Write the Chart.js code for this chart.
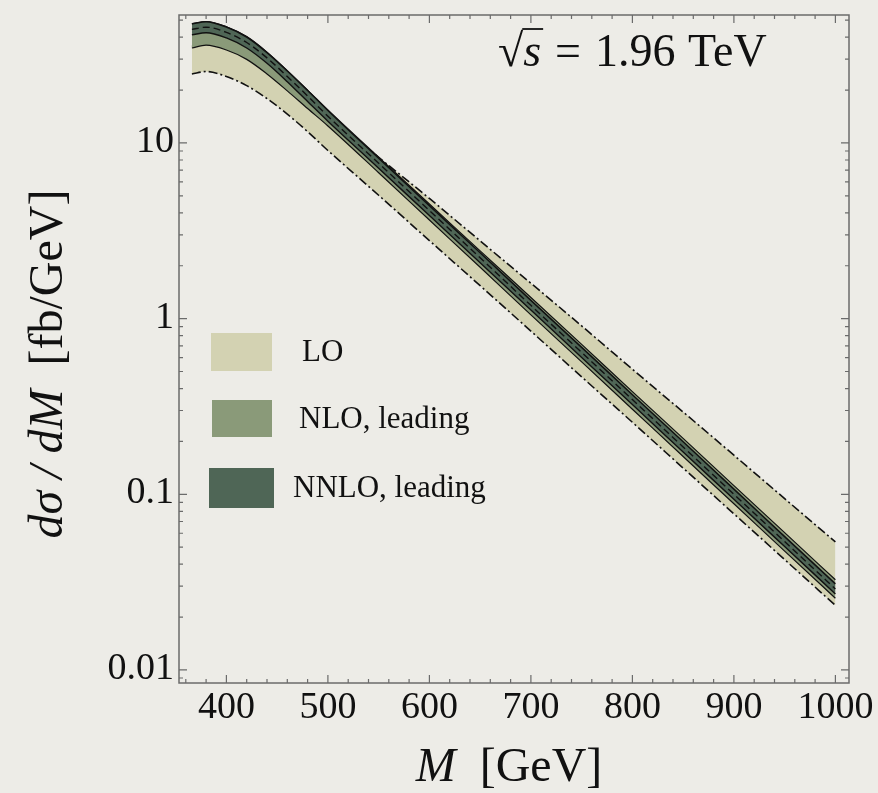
<!DOCTYPE html>
<html>
<head>
<meta charset="utf-8">
<script src="https://cdn.jsdelivr.net/npm/chart.js@4.4.1/dist/chart.umd.min.js"></script>
<style>
  html, body { margin: 0; padding: 0; background: #edece7; }
  #wrap { width: 878px; height: 793px; position: relative; }
</style>
</head>
<body>
<div id="wrap"><canvas id="myChart"></canvas></div>
<script>
// invariant mass points (GeV) and band edges (fb/GeV)
var massGeV = [366, 380, 400, 420, 440, 460, 480, 500, 550, 600, 650, 700, 750, 800, 850, 900, 950, 1000];
var loLow = [24.7, 25.5, 23.9, 21.2, 17.9, 14.6, 11.6, 9.06, 5.04, 2.78, 1.54, 0.849, 0.466, 0.257, 0.141, 0.0774, 0.0425, 0.0233];
var loHigh = [35.4, 36.9, 35.4, 32.3, 27.4, 22.4, 18.0, 14.4, 8.29, 4.83, 2.77, 1.59, 0.909, 0.515, 0.294, 0.167, 0.0945, 0.0536];
var nloLow = [34.7, 36.0, 33.8, 29.9, 24.7, 19.8, 15.7, 12.5, 6.77, 3.64, 1.96, 1.05, 0.567, 0.305, 0.164, 0.0883, 0.0475, 0.0256];
var nloHigh = [47.8, 49.1, 45.9, 40.3, 32.9, 25.8, 20.0, 15.4, 8.29, 4.49, 2.43, 1.32, 0.713, 0.384, 0.208, 0.112, 0.0605, 0.0326];
var nnloLow = [41.2, 42.4, 39.6, 34.7, 28.4, 22.3, 17.2, 13.3, 7.18, 3.86, 2.08, 1.12, 0.601, 0.324, 0.174, 0.0937, 0.0504, 0.0271];
var nnloHigh = [47.6, 49.0, 45.7, 40.1, 32.7, 25.7, 19.9, 15.3, 8.18, 4.40, 2.37, 1.27, 0.686, 0.369, 0.199, 0.107, 0.0574, 0.0309];
var nnloCentral = [44.3, 45.6, 42.6, 37.3, 30.5, 23.9, 18.5, 14.2, 7.66, 4.12, 2.22, 1.19, 0.642, 0.346, 0.186, 0.100, 0.0538, 0.0289];

var xTickLabels = [400, 500, 600, 700, 800, 900, 1000];
var yTickLabels = [0.01, 0.1, 1, 10];
var legendLabels = ["LO", "NLO, leading", "NNLO, leading"];
var bandColors = ["#d3d2b2", "#8a9a79", "#4f6656"];

var SERIF = "'Liberation Serif', 'DejaVu Serif', serif";

function pts(arr) {
    return massGeV.map(function (m, i) { return { x: m, y: arr[i] }; });
}

function edge(arr, order, color, width, dash) {
    return { data: pts(arr), order: order, borderColor: color, borderWidth: width,
             borderDash: dash || [], fill: false, pointRadius: 0 };
}
function bandLow(arr, order) {
    return { data: pts(arr), order: order, borderWidth: 0, borderColor: 'rgba(0,0,0,0)', fill: false, pointRadius: 0 };
}
function bandHigh(arr, order, color) {
    return { data: pts(arr), order: order, borderWidth: 0, borderColor: 'rgba(0,0,0,0)',
             backgroundColor: color, fill: '-1', pointRadius: 0 };
}

// bands drawn bottom-up: LO, NLO, NNLO, each followed by its edge lines
var datasets = [
    bandLow(loLow, 60), bandHigh(loHigh, 59, bandColors[0]),
    edge(loLow, 58, '#111', 1.6, [9, 3, 2, 3]), edge(loHigh, 57, '#111', 1.6, [9, 3, 2, 3]),
    bandLow(nloLow, 56), bandHigh(nloHigh, 55, bandColors[1]),
    edge(nloLow, 54, '#111', 1.2), edge(nloHigh, 53, '#111', 1.2),
    bandLow(nnloLow, 52), bandHigh(nnloHigh, 51, bandColors[2]),
    edge(nnloLow, 50, '#111', 1.4), edge(nnloHigh, 49, '#111', 1.5),
    edge(nnloCentral, 48, '#111', 1.4, [7, 4])
];

var decor = {
    id: 'decor',
    afterDraw: function (chart) {
        var ctx = chart.ctx, a = chart.chartArea;
        var xs = chart.scales.x, ys = chart.scales.y;
        ctx.save();
        ctx.strokeStyle = '#6b6b6b';
        ctx.lineWidth = 1.5;
        ctx.strokeRect(a.left, a.top, a.right - a.left, a.bottom - a.top);
        ctx.lineWidth = 1.2;
        // x ticks, inward, top and bottom
        for (var v = 360; v <= 1000; v += 20) {
            var px = xs.getPixelForValue(v);
            var len = (v % 100 === 0) ? 8 : 4;
            ctx.beginPath();
            ctx.moveTo(px, a.bottom); ctx.lineTo(px, a.bottom - len);
            ctx.moveTo(px, a.top); ctx.lineTo(px, a.top + len);
            ctx.stroke();
        }
        // y ticks, log decades + minors
        for (var d = -3; d <= 1; d++) {
            for (var k = 1; k <= 9; k++) {
                var val = k * Math.pow(10, d);
                if (val < ys.min || val > ys.max) continue;
                var py = ys.getPixelForValue(val);
                var l2 = (k === 1) ? 8 : 4;
                ctx.beginPath();
                ctx.moveTo(a.left, py); ctx.lineTo(a.left + l2, py);
                ctx.moveTo(a.right, py); ctx.lineTo(a.right - l2, py);
                ctx.stroke();
            }
        }
        ctx.fillStyle = '#111';
        ctx.font = '38px ' + SERIF;
        ctx.textAlign = 'center';
        ctx.textBaseline = 'alphabetic';
        xTickLabels.forEach(function (t) {
            ctx.fillText(String(t), xs.getPixelForValue(t), a.bottom + 35);
        });
        ctx.textAlign = 'right';
        ctx.textBaseline = 'middle';
        yTickLabels.forEach(function (t) {
            ctx.fillText(String(t), a.left - 5, ys.getPixelForValue(t) - 1);
        });

        // axis titles
        var it = 'italic 48px ' + SERIF, up = '48px ' + SERIF;
        ctx.textAlign = 'left';
        ctx.textBaseline = 'alphabetic';
        ctx.font = it; var w1 = ctx.measureText('M').width;
        ctx.font = up; var w2 = ctx.measureText('  [GeV]').width;
        var x0 = 509 - (w1 + w2) / 2;
        ctx.font = it; ctx.fillText('M', x0, 781);
        ctx.font = up; ctx.fillText('  [GeV]', x0 + w1, 781);

        ctx.save();
        ctx.translate(62, 364);
        ctx.rotate(-Math.PI / 2);
        ctx.font = it; var w3 = ctx.measureText('d\u03c3 / dM').width;
        ctx.font = up; var w4 = ctx.measureText('  [fb/GeV]').width;
        var y0 = -(w3 + w4) / 2;
        ctx.font = it; ctx.fillText('d\u03c3 / dM', y0, 0);
        ctx.font = up; ctx.fillText('  [fb/GeV]', y0 + w3, 0);
        ctx.restore();

        // legend
        var boxes = [[211, 333, 61, 38], [212, 400, 60, 37], [209, 468, 65, 40]];
        var textX = [302, 299, 293];
        ctx.font = '31px ' + SERIF;
        ctx.textBaseline = 'middle';
        for (var i = 0; i < 3; i++) {
            var b = boxes[i];
            ctx.fillStyle = bandColors[i];
            ctx.fillRect(b[0], b[1], b[2], b[3]);
            ctx.fillStyle = '#111';
            ctx.fillText(legendLabels[i], textX[i], b[1] + b[3] / 2 + 1);
        }

        // sqrt(s) annotation, spread like TeX math spacing
        var sx = 498, sy = 66, ex = 768;
        ctx.textBaseline = 'alphabetic';
        ctx.font = '46px ' + SERIF;
        var rw = ctx.measureText('\u221a').width;
        var eqw = ctx.measureText('=').width;
        var nw = ctx.measureText('1.96').width;
        var tw = ctx.measureText('TeV').width;
        ctx.font = 'italic 46px ' + SERIF;
        var sw = ctx.measureText('s').width;
        var gap = (ex - sx - rw - sw - eqw - nw - tw) / 3;
        ctx.font = '46px ' + SERIF;
        ctx.fillText('\u221a', sx, sy);
        ctx.font = 'italic 46px ' + SERIF;
        ctx.fillText('s', sx + rw, sy);
        ctx.lineWidth = 1.8;
        ctx.strokeStyle = '#111';
        ctx.beginPath();
        ctx.moveTo(sx + rw - 1, 29); ctx.lineTo(sx + rw + sw + 2, 29);
        ctx.stroke();
        ctx.font = '46px ' + SERIF;
        var cx = sx + rw + sw + gap;
        ctx.fillText('=', cx, sy);
        cx += eqw + gap;
        ctx.fillText('1.96', cx, sy);
        cx += nw + gap * 0.9;
        ctx.fillText('TeV', cx, sy);
        ctx.restore();
    }
};

new Chart(document.getElementById('myChart'), {
    type: 'line',
    data: { datasets: datasets },
    options: {
        responsive: true,
        maintainAspectRatio: false,
        animation: false,
        layout: { padding: { left: 179, top: 15, right: 29, bottom: 110 } },
        elements: { line: { tension: 0.4, cubicInterpolationMode: 'monotone' } },
        plugins: {
            legend: { display: false },
            tooltip: { enabled: false },
            filler: { drawTime: 'beforeDatasetDraw' }
        },
        scales: {
            x: { type: 'linear', min: 353.3, max: 1013.4, display: false },
            y: { type: 'logarithmic', min: 0.00843, max: 53.5, display: false }
        }
    },
    plugins: [decor]
});
</script>
</body>
</html>
